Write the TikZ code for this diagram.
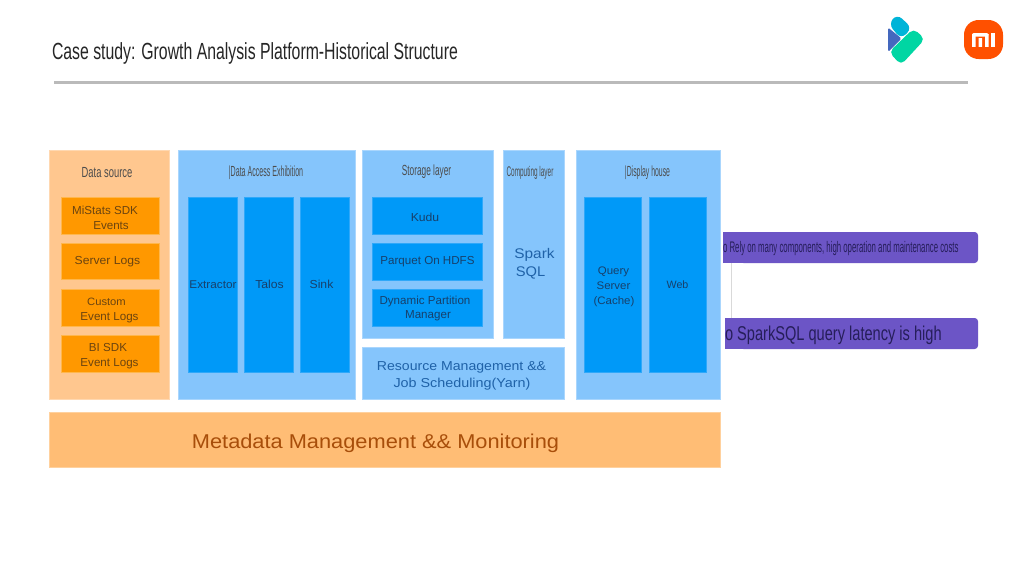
\documentclass[tikz,border=0pt]{standalone}
\usepackage{graphicx}
\usepackage{fontspec}
\setmainfont{Liberation Sans}
\definecolor{pale}{HTML}{FFC78F}
\definecolor{orng}{HTML}{FF9800}
\definecolor{sky}{HTML}{85C5FC}
\definecolor{azure}{HTML}{0099F8}
\definecolor{meta}{HTML}{FFBD75}
\definecolor{purp}{HTML}{6C55C6}
\definecolor{brownt}{HTML}{6B4410}
\definecolor{bluet}{HTML}{17406B}
\definecolor{midblue}{HTML}{1F62A8}
\definecolor{rmk}{HTML}{261E5A}
\definecolor{miorange}{HTML}{FF5000}
\definecolor{logoblue}{HTML}{4468BE}
\definecolor{logocyan}{HTML}{00B4D8}
\definecolor{logoteal}{HTML}{00D6A3}
\newcommand{\nx}[2]{\scalebox{#1}[1]{#2}}
\newcommand{\fs}[1]{\fontsize{#1}{#1}\selectfont}
\tikzset{
  x=0.75pt,y=-0.75pt,
  lab/.style={inner sep=0pt,outer sep=0pt,align=center,yshift=-1.1pt},
  softbox/.style={fill=pale,draw=pale!70!white,line width=0.4pt},
  orbox/.style={fill=orng,draw=orng!70!white,line width=0.4pt},
  skybox/.style={fill=sky,draw=sky!70!white,line width=0.4pt},
  azbox/.style={fill=azure,draw=azure!65!sky,line width=0.4pt},
  onor/.style={lab,text=brownt,font=\fs{8.7}},
  onaz/.style={lab,yshift=0.6pt,text=bluet,font=\fs{8.7}},
  onsky/.style={lab,text=midblue},
  head/.style={lab,yshift=0.6pt,text=black!70},
}
\begin{document}
\begin{tikzpicture}
\useasboundingbox (0,0) rectangle (1024,571);
\fill[white] (0,0) rectangle (1024,571);
% title and rule
\node[lab,anchor=west,text=black!85] (title) at (52,52) {\fs{17.5}\nx{0.678}{Case study: Growth Analysis Platform-Historical Structure}};
\draw[black!27,line width=1.6pt] (54,82.5) -- (968,82.5);
% logos
\fill[logoblue,rounded corners=1.2] (888,27.5) -- (901.5,38.5) -- (888,52) -- cycle;
\fill[logocyan,rounded corners=5] (897,14) -- (888.5,24) -- (901,39) -- (912,28) -- cycle;
\fill[logoteal,rounded corners=4] (913.5,28.5) -- (889,52) -- (901,65) -- (925,39) -- cycle;
\fill[miorange,rounded corners=11] (964,20) rectangle (1003,59);
\fill[white,rounded corners=1.5] (972,33) rectangle (988.5,36.5);
\fill[white] (972,34) rectangle (975.5,46.8) (978.5,38) rectangle (982,46.8) (985,34) rectangle (988.5,46.8);
\fill[white] (991.3,33) rectangle (994.8,46.8);
% panels
\begin{scope}[shift={(-0.4,-0.4)}]
\draw[softbox] (49.4,150.4) rectangle (170,400);
\draw[skybox] (178.4,150.4) rectangle (356,400);
\draw[skybox] (362.4,150.4) rectangle (494,339);
\draw[skybox] (503.4,150.4) rectangle (565,339);
\draw[skybox] (362.4,347.4) rectangle (565,400);
\draw[skybox] (576.4,150.4) rectangle (721,400);
\draw[fill=meta,draw=meta!70!white,line width=0.4pt] (49.4,412.4) rectangle (721,468);
% inner boxes
\draw[orbox] (61.4,197.4) rectangle (160,235);
\draw[orbox] (61.4,243.4) rectangle (160,280);
\draw[orbox] (61.4,289.4) rectangle (160,327);
\draw[orbox] (61.4,335.4) rectangle (160,373);
\draw[azbox] (188.4,197.4) rectangle (238,373);
\draw[azbox] (244.4,197.4) rectangle (294,373);
\draw[azbox] (300.4,197.4) rectangle (350,373);
\draw[azbox] (372.4,197.4) rectangle (483,235);
\draw[azbox] (372.4,243.4) rectangle (483,281);
\draw[azbox] (372.4,289.4) rectangle (483,327);
\draw[azbox] (584.4,197.4) rectangle (642,373);
\draw[azbox] (649.4,197.4) rectangle (707,373);
\end{scope}
% panel headings
\node[head] (h1) at (107,172) {\fs{11}\nx{0.64}{Data source}};
\node[head] (h2) at (266,172) {\fs{11}\nx{0.483}{|Data Access Exhibition}};
\node[head] (h3) at (426.5,171.5) {\fs{11}\nx{0.565}{Storage layer}};
\node[head] (h4) at (530,172) {\fs{10.5}\nx{0.46}{Computing layer}};
\node[head] (h5) at (647.5,172) {\fs{11}\nx{0.47}{|Display house}};
% data sources
\node[onor] (a1) at (105,209) {MiStats SDK};
\node[onor] (a2) at (111,224.5) {Events};
\node[onor] (a3) at (107.5,260) {\nx{1.05}{Server Logs}};
\node[onor] (a4) at (106.5,300) {\fs{8}\nx{1.05}{Custom}};
\node[onor] (a5) at (109.5,316.5) {Event Logs};
\node[onor] (a6) at (108,346) {BI SDK};
\node[onor] (a7) at (109.5,362.5) {Event Logs};
% access
\node[onaz] (b1) at (213,284) {\fs{8.4}\nx{1.05}{Extractor}};
\node[onaz] (b2) at (269.5,284) {\nx{1.05}{Talos}};
\node[onaz] (b3) at (321.5,284) {\nx{1.05}{Sink}};
% storage
\node[onaz] (c1) at (425,217) {\nx{1.05}{Kudu}};
\node[onaz] (c2) at (427.5,261) {Parquet On HDFS};
\node[onaz] (c3) at (425,301) {Dynamic Partition};
\node[onaz] (c4) at (428,315.5) {Manager};
% compute
\node[onsky,font=\fs{10.5}] (d1) at (534.5,253.5) {\nx{1.1}{Spark}};
\node[onsky,font=\fs{10.5}] (d2) at (530.5,271) {\nx{1.05}{SQL}};
% resource
\node[onsky,font=\fs{9.7}] (e1) at (461.5,365.5) {\nx{1.09}{Resource Management \&\&}};
\node[onsky,font=\fs{9.7}] (e2) at (462,382.5) {\nx{1.11}{Job Scheduling(Yarn)}};
% display
\node[onaz,font=\fs{8.2}] (f1) at (613.5,271) {\nx{1.05}{Query}};
\node[onaz,font=\fs{8.2}] (f2) at (613.5,285.5) {\nx{1.05}{Server}};
\node[onaz,font=\fs{8.2}] (f3) at (614,301.5) {\nx{1.05}{(Cache)}};
\node[onaz,font=\fs{8}] (f4) at (677.5,284) {Web};
% metadata
\node[lab,text={rgb,255:red,168;green,78;blue,10},font=\fs{15}] (m) at (375.5,441.5) {\nx{1.09}{Metadata Management \&\& Monitoring}};
% remarks
\fill[purp,rounded corners=2.5] (740,232) rectangle (978,263);
\fill[purp] (723,232) rectangle (750,263);
\fill[purp,rounded corners=2.5] (740,318) rectangle (978,349);
\fill[purp] (725,318) rectangle (750,349);
\coordinate (l1) at (731.5,263);
\coordinate (l2) at (731.5,318);
\draw[black!15,line width=0.6pt] (l1) -- (l2);
\node[lab,anchor=west,text=rmk] (r1) at (723,247) {\fs{11.5}\nx{0.51}{o Rely on many components, high operation and maintenance costs}};
\node[lab,anchor=west,text=rmk] (r2) at (725,333.5) {\fs{15}\nx{0.73}{o SparkSQL query latency is high}};
\end{tikzpicture}
\end{document}
